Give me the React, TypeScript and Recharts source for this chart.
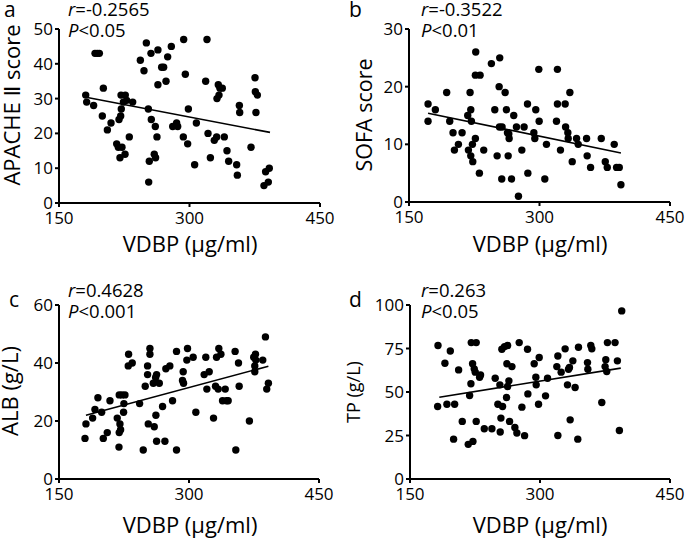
import React from 'react';
import { ScatterChart, Scatter, XAxis, YAxis, ReferenceLine } from 'recharts';

const FONT = '"Open Sans", "DejaVu Sans", sans-serif';
const VDBP_TICKS = [150, 300, 450];

// Panel a: APACHE II score vs VDBP
const apacheVdbp = [180.7,181.8,189.8,191.4,194,196.4,201,199.8,205.6,209.8,216.3,218.2,220.1,222.4,225.9,219,220.9,221.6,221.3,226.2,224,227.8,234.7,230.8,243.5,247.7,250.4,252.7,253.8,253.1,255.7,256.1,259.5,261,260.7,262.6,263.7,263.7,268,270.3,273,274.9,279.1,280.7,285.2,286.4,292.9,293.3,295.2,297.9,298.7,305.9,307.9,318.6,320.1,321.3,324,328.5,331.2,333.1,335,331.6,333.9,337.7,340,343.1,345,354.2,355,357.3,357.7,370.7,375.3,375.7,378,376.4,385.6,390.6,387.5,391.7];
const apacheScore = [31,29,28,43,43,43,33,25,21,23,17,16,13,16,14,24,25,27,31,31,29,29.5,29,19,41,38,46,27,12,6,43,24,14,13,22,19,44,34,39,39,35,42,45,22,23,22,19,47,37,17,27,11,23,35,47,20,13,18,19,34,33,30,31,33,19,15,12,11,8,28,26,16,36,32,31,26,5,6,9,10];
const apacheFitX = [182.6, 392.5];
const apacheFitY = [30.3, 20.3];

// Panel b: SOFA score vs VDBP
const sofaVdbp = [171.9,171.9,180.3,193.3,196.8,200.6,202.2,206.8,211,217.5,220.2,221,221.7,218.3,221,223.3,222.9,226.3,226.3,231.7,226.7,230.9,235.9,244.7,248.6,251.3,253.6,254.3,254,257,256.6,260.5,262,263.2,264.7,265.1,264,267.8,270.4,273.5,275.8,279.7,282.3,286.2,286.6,293.5,294.6,295.7,299.2,299.6,308,306.1,319.5,320.6,320.6,324.1,329.5,334.9,330,332.6,333,337.6,342.6,344.5,354.1,354.8,358.7,371,375.6,377.9,385.9,388.6,391.7,393.6];
const sofaScore = [17,14,16,19,14,12,9,10,12,15,19,16,14,9,8,7,10,11,22,22,26,5,9,24,16,8,20,25,13,13,4,19,16,12,11.8,11,8,4,15,13,1,9,13,17,5,12,11,16,23,14,10,4,14,17,23,9,17,19,13,12,11,7,11,10,11,8,6,11,7,6,10,6,6,3];
const sofaFitX = [171.9, 393.6];
const sofaFitY = [15.4, 8.5];

// Panel c: ALB vs VDBP
const albVdbp = [180,181.1,188.8,191.5,194.9,199.2,201.1,205.7,208.8,217.2,219.5,220.3,221.1,219.2,219.5,222.6,226.1,224.9,224.5,229.9,230.3,234.5,243,247.2,249.5,252.2,252.2,254.9,254.9,253,259.9,258.8,261.5,262.6,261.8,262.6,265.7,269.5,272.2,273.3,277.9,281,285.6,285.6,292.5,293.7,293.3,297.5,298.3,304.8,307.9,317.5,319.4,320.6,323.3,328.3,330.6,331.8,333.7,334.4,336.8,338.7,341.8,343.3,345.2,353.2,354,357.1,357.9,369.7,374.7,375.9,375.9,376.7,377.1,385.1,388.2,389.7,391.6];
const albValue = [14,19,21,24,28,23,14,16,27,21,16,19,17,11,29,29,29,26,23,39,43,40,26,10,32,39,36,45,43,19,18,33,35,36,22,13,33,25,13,38,39,27,44,10,34,33,37,41,45,42,23,36,42,31,37,21,32,42,31,45,43,27,31,27,27,44,10,40,32,20,42,39,37,43,41,41,49,31,33];
const albFitX = [181.1, 391.6];
const albFitY = [22, 38.9];

// Panel d: TP vs VDBP
const tpVdbp = [182.3,181.9,190.3,192.6,196.5,201.5,200.3,206.1,210.3,217.2,218.8,220.3,222.6,220.7,226.4,222.2,224.1,225.3,226.4,230.3,231.4,235.7,244.5,248.3,251.4,253.7,254.1,254.9,256,256.8,259.1,261.8,261.4,262.6,264.1,262.6,264.9,267.6,271,273.3,276,279.1,282.2,285.6,286,293.3,295.2,295.6,299.1,298.3,306.4,308.7,320.6,319.4,320.6,324.4,329,331.7,332.9,334,334.8,337.9,340.5,344.4,343.6,354.8,355.2,358.6,359.8,371.3,375.1,375.9,377,377.8,386.6,389.3,391.6,394.3];
const tpValue = [76.7,41.7,66.5,43,73.6,43,22.9,62.7,33.1,19.9,48,54.7,21.6,78.4,78.4,66.2,63.3,61.4,33.1,58.5,59.8,28.9,28.9,57.9,43,54.1,27,35,74.6,41.7,76.1,66.2,46.8,53.2,56.4,76.7,33.1,64.6,29.6,26.4,78.4,41.3,24.9,74.6,48.9,66.2,58.5,54.1,69.8,43,47.8,57.9,70.7,64.6,25,61.4,74.8,54.1,63.1,64.1,34,67.9,52.6,75.7,22.9,66.9,63.1,76.7,74.8,44,64.6,68.5,61.8,78.4,78.4,67.9,27.9,96.6];
const tpFitX = [183.8, 393.2];
const tpFitY = [47, 63.7];

type Pt = { x: number; y: number };
const zip = (xs: number[], ys: number[]): Pt[] => xs.map((x, i) => ({ x, y: ys[i] }));

const Dot = (props: any) => <circle cx={props.cx} cy={props.cy} r={3.7} fill="#000" />;

const axisStyle = { stroke: '#000', strokeWidth: 2 };
const tickFont = { fill: '#000', fontSize: 17, fontFamily: FONT };

function Panel(props: {
  left: number; top: number; width: number; height: number;
  margin: { top: number; right: number; bottom: number; left: number };
  data: Pt[]; yDomain: [number, number]; yTicks: number[]; fit: Pt[];
}) {
  const { left, top, width, height, margin, data, yDomain, yTicks, fit } = props;
  return (
    <div style={{ position: 'absolute', left, top }}>
      <ScatterChart width={width} height={height} margin={margin}>
        <XAxis type="number" dataKey="x" domain={[150, 450]} ticks={VDBP_TICKS} interval={0}
          height={40} axisLine={axisStyle} tickLine={axisStyle} tickSize={4} tickMargin={5} tick={tickFont} />
        <YAxis type="number" dataKey="y" domain={yDomain} ticks={yTicks} interval={0}
          width={40} axisLine={axisStyle} tickLine={axisStyle} tickSize={4} tickMargin={2} tick={tickFont} />
        <ReferenceLine segment={fit} stroke="#000" strokeWidth={1.6} />
        <Scatter data={data} shape={Dot} isAnimationActive={false} />
      </ScatterChart>
    </div>
  );
}

const Stat = ({ x, y, r, p }: { x: number; y: number; r: string; p: string }) => (
  <g fontFamily={FONT} fontSize={18.5} fill="#000">
    <text x={x} y={y}><tspan fontStyle="italic">r</tspan>{'=' + r}</text>
    <text x={x} y={y + 21}><tspan fontStyle="italic">P</tspan>{'<' + p}</text>
  </g>
);

export default function App() {
  return (
    <div style={{ position: 'absolute', left: 0, top: 0, width: 685, height: 540, background: '#fff', overflow: 'hidden' }}>
      <Panel left={0} top={0} width={340} height={270} margin={{ top: 29, right: 20, bottom: 27, left: 19 }}
        data={zip(apacheVdbp, apacheScore)} yDomain={[0, 50]} yTicks={[0, 10, 20, 30, 40, 50]}
        fit={zip(apacheFitX, apacheFitY)} />
      <Panel left={340} top={0} width={345} height={270} margin={{ top: 29, right: 15, bottom: 28, left: 29 }}
        data={zip(sofaVdbp, sofaScore)} yDomain={[0, 30]} yTicks={[0, 10, 20, 30]}
        fit={zip(sofaFitX, sofaFitY)} />
      <Panel left={0} top={270} width={340} height={270} margin={{ top: 35, right: 21, bottom: 21, left: 19 }}
        data={zip(albVdbp, albValue)} yDomain={[0, 60]} yTicks={[0, 20, 40, 60]}
        fit={zip(albFitX, albFitY)} />
      <Panel left={340} top={270} width={345} height={270} margin={{ top: 35, right: 15, bottom: 21, left: 30 }}
        data={zip(tpVdbp, tpValue)} yDomain={[0, 100]} yTicks={[0, 25, 50, 75, 100]}
        fit={zip(tpFitX, tpFitY)} />
      <svg width={685} height={540} style={{ position: 'absolute', left: 0, top: 0, pointerEvents: 'none' }}>
        <g fontFamily={FONT} fill="#000">
          <text x={4} y={17} fontSize={21}>a</text>
          <text x={349} y={17} fontSize={21}>b</text>
          <text x={9} y={307} fontSize={21}>c</text>
          <text x={349} y={307} fontSize={21}>d</text>

          <text x={190} y={252} fontSize={22} textAnchor="middle">VDBP (µg/ml)</text>
          <text x={540} y={252} fontSize={22} textAnchor="middle">VDBP (µg/ml)</text>
          <text x={190} y={533} fontSize={22} textAnchor="middle">VDBP (µg/ml)</text>
          <text x={540} y={533} fontSize={22} textAnchor="middle">VDBP (µg/ml)</text>

          <text transform="translate(20,105) rotate(-90)" fontSize={22} textAnchor="middle">APACHE Ⅱ score</text>
          <text transform="translate(372,115) rotate(-90)" fontSize={21.5} textAnchor="middle">SOFA score</text>
          <text transform="translate(18,391) rotate(-90)" fontSize={22} textAnchor="middle">ALB (g/L)</text>
          <text transform="translate(360,392) rotate(-90)" fontSize={18} textAnchor="middle">TP (g/L)</text>
        </g>
        <Stat x={68} y={16} r="-0.2565" p="0.05" />
        <Stat x={421} y={16} r="-0.3522" p="0.01" />
        <Stat x={68} y={297} r="0.4628" p="0.001" />
        <Stat x={421} y={297} r="0.263" p="0.05" />
      </svg>
    </div>
  );
}
